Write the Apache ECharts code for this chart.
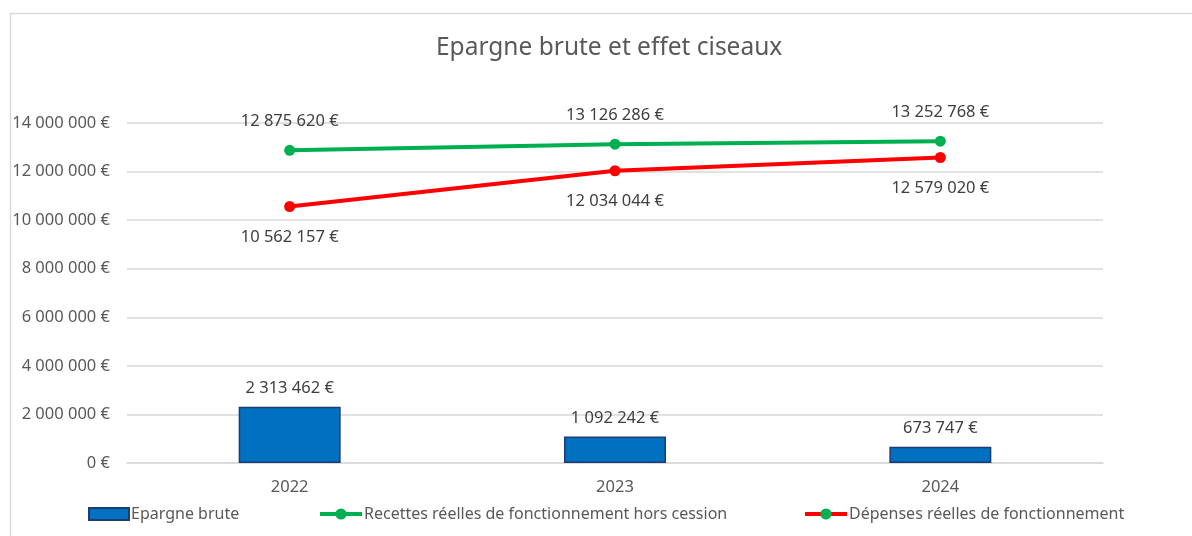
<!DOCTYPE html>
<html>
<head>
<meta charset="utf-8">
<script src="https://cdn.jsdelivr.net/npm/echarts@6/dist/echarts.min.js"></script>
<style>
html,body{margin:0;padding:0;background:#fff;}
#chart{width:1192px;height:536px;}
</style>
</head>
<body>
<div id="chart"></div>
<script>
const categories = ['2022', '2023', '2024'];
const epargneBrute = [2313462, 1092242, 673747];
const recettes = [12875620, 13126286, 13252768];
const depenses = [10562157, 12034044, 12579020];
const seriesNames = ['Epargne brute', 'Recettes réelles de fonctionnement hors cession', 'Dépenses réelles de fonctionnement'];
const titleText = 'Epargne brute et effet ciseaux';

const FONT = '"Noto Sans", "Open Sans", sans-serif';
function fmt(v) {
  return String(Math.round(v)).replace(/\B(?=(\d{3})+(?!\d))/g, ' ') + ' €';
}

const chart = echarts.init(document.getElementById('chart'));
const legendBase = {
  top: 506,
  padding: 0,
  itemHeight: 14,
  textStyle: { color: '#595959', fontSize: 16, fontFamily: FONT, padding: [0, 0, 0, -3] },
  selectedMode: false
};
const lbl = { show: true, color: '#404040', fontSize: 16.5, fontFamily: FONT, formatter: p => fmt(p.value) };
chart.setOption({
  animation: false,
  backgroundColor: '#fff',
  graphic: [{
    type: 'rect', left: 8, top: 11, silent: true,
    shape: { width: 1400, height: 800 },
    style: { fill: 'none', stroke: '#d9d9d9', lineWidth: 1.5 }
  }],
  title: {
    text: titleText, left: 431, top: 31,
    textStyle: { color: '#595959', fontSize: 24.5, fontWeight: 'normal', fontFamily: FONT }
  },
  legend: [
    Object.assign({}, legendBase, { left: 88, itemWidth: 40, itemHeight: 12, icon: 'rect', data: [{ name: seriesNames[0] }] }),
    Object.assign({}, legendBase, { left: 318, itemWidth: 42, lineStyle: { width: 4 }, data: [{ name: seriesNames[1] }] }),
    Object.assign({}, legendBase, { left: 803, itemWidth: 42, lineStyle: { width: 4 }, data: [{ name: seriesNames[2], itemStyle: { color: '#00B050' } }] })
  ],
  grid: { left: 127, right: 89, top: 123, bottom: 73 },
  xAxis: {
    type: 'category', data: categories,
    axisLine: { lineStyle: { color: '#d9d9d9', width: 1.5 } },
    axisTick: { show: false },
    axisLabel: { color: '#595959', fontSize: 16.5, fontFamily: FONT, margin: 16 }
  },
  yAxis: {
    type: 'value', min: 0, max: 14000000, interval: 2000000,
    axisLine: { show: false }, axisTick: { show: false },
    splitLine: { lineStyle: { color: '#d9d9d9', width: 1.5 } },
    axisLabel: { color: '#595959', fontSize: 16.5, fontFamily: FONT, margin: 17, formatter: fmt }
  },
  series: [
    {
      name: seriesNames[0], type: 'bar', data: epargneBrute, barWidth: 102,
      itemStyle: { color: '#0070C0', borderColor: '#1F3B73', borderWidth: 1.5 },
      label: Object.assign({}, lbl, { position: 'top', distance: 10 })
    },
    {
      name: seriesNames[1], type: 'line', data: recettes,
      symbol: 'circle', symbolSize: 11,
      lineStyle: { color: '#00B050', width: 4 },
      itemStyle: { color: '#00B050' },
      label: Object.assign({}, lbl, { position: 'top', distance: 15 })
    },
    {
      name: seriesNames[2], type: 'line', data: depenses,
      symbol: 'circle', symbolSize: 11,
      lineStyle: { color: '#FF0000', width: 4 },
      itemStyle: { color: '#FF0000' },
      label: Object.assign({}, lbl, { position: 'bottom', distance: 17 })
    }
  ]
});
</script>
</body>
</html>
